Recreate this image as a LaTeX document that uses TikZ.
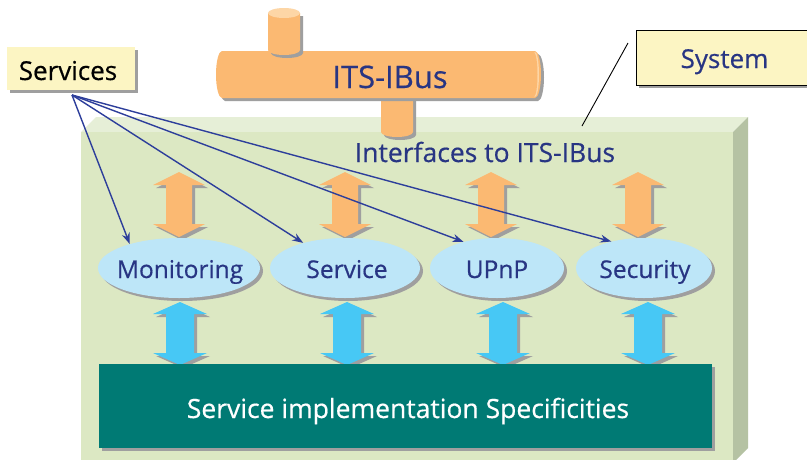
\documentclass[tikz,border=0pt]{standalone}
\usepackage{fontspec}
\setmainfont{Open Sans}[FakeBold=0.5]
\usetikzlibrary{shapes.geometric,arrows.meta}

\definecolor{greenfront}{HTML}{DCE8C3}
\definecolor{greentop}{HTML}{E6EFD7}
\definecolor{greenside}{HTML}{B5C2A3}
\definecolor{busorange}{HTML}{FBB972}
\definecolor{buslight}{HTML}{FDD6A6}
\definecolor{navy}{HTML}{283583}
\definecolor{linkblue}{HTML}{2D3E9B}
\definecolor{ellfill}{HTML}{BDE6F8}
\definecolor{arrowblue}{HTML}{47C8F5}
\definecolor{tealbox}{HTML}{007A74}
\definecolor{notefill}{HTML}{FCF5C3}
\definecolor{shadowc}{HTML}{9F9F9F}

% double-headed block arrow: x, top, bottom, shaft half width, head half width, head length, colour
\newcommand\twoway[7]{%
  \fill[#7, shadowed]
    (#1,#2) -- (#1+#5,#2+#6) -- (#1+#4,#2+#6) -- (#1+#4,#3-#6) -- (#1+#5,#3-#6)
    -- (#1,#3) -- (#1-#5,#3-#6) -- (#1-#4,#3-#6) -- (#1-#4,#2+#6) -- (#1-#5,#2+#6) -- cycle;}

\tikzset{
  shadowed/.style={preaction={fill=shadowc, transform canvas={shift={(3pt,-3pt)}}}},
  svc/.style={ellipse, fill=ellfill, shadowed, minimum width=#1, minimum height=60pt, inner sep=0pt},
  svctext/.style={font=\fontsize{24.5}{28}\selectfont, text=navy, anchor=base, inner sep=0pt},
  link/.style={draw=linkblue, line width=1.4pt, -{Stealth[length=11pt,width=8pt]}},
  note/.style={fill=notefill, shadowed, inner sep=0pt, anchor=north west},
}

\begin{document}
\begin{tikzpicture}[x=1pt,y=-1pt]
\clip (0,0) rectangle (807,459);
\fill[white] (0,0) rectangle (807,459);

% system block (front, top and side faces)
\fill[greentop] (81,132) -- (96,117) -- (748,117) -- (733,132) -- cycle;
\fill[greenside] (733,132) -- (748,117) -- (748,448) -- (733,463) -- cycle;
\fill[greenfront] (81,132) rectangle (733,463);

% lower connector of the bus
\fill[busorange, shadowed] (381,90) -- (413,90) -- (413,132)
  arc[start angle=0, end angle=180, x radius=16, y radius=5] -- cycle;

% the bus itself
\fill[busorange, shadowed] (222,51) -- (535,51)
  arc[start angle=-90, end angle=90, x radius=6, y radius=23.5] -- (222,98)
  arc[start angle=90, end angle=270, x radius=6, y radius=23.5] -- cycle;
\fill[buslight] (535,74.5) ellipse[x radius=4, y radius=22.5];
\fill[busorange] (534,74.5) ellipse[x radius=3.5, y radius=22];
\node[font=\fontsize{31}{34}\selectfont, text=navy, anchor=base, inner sep=0pt] (bus) at (390,88) {ITS-IBus};

% upper connector of the bus
\fill[busorange, shadowed] (268,13) -- (268,50)
  arc[start angle=180, end angle=0, x radius=16, y radius=5] -- (300,13) -- cycle;
\fill[buslight] (284,13) ellipse[x radius=16, y radius=5];

\node[font=\fontsize{26.5}{30}\selectfont, text=navy, anchor=base, inner sep=0pt] (ifc) at (485,162) {Interfaces to ITS-IBus};

% interface arrows
\twoway{179}{172}{237}{13}{26}{13}{busorange}
\twoway{345}{172}{237}{13}{26}{13}{busorange}
\twoway{491}{172}{237}{13}{26}{13}{busorange}
\twoway{638}{172}{237}{13}{26}{13}{busorange}

% services
\node[svc=162pt] (mon) at (179,268) {};
\node[svc=150pt] (srv) at (345,268) {};
\node[svc=134pt] (upnp) at (497,268) {};
\node[svc=136pt] (sec) at (644,268) {};
\node[svctext] (monlbl) at (180,278) {Monitoring};
\node[svctext] (srvlbl) at (347,278) {Service};
\node[svctext] (upnplbl) at (497,278) {UPnP};
\node[svctext] (seclbl) at (645,278) {Security};

% implementation arrows
\twoway{180}{302}{365}{14}{27}{12}{arrowblue}
\twoway{347}{302}{365}{14}{27}{12}{arrowblue}
\twoway{503}{302}{365}{14}{27}{12}{arrowblue}
\twoway{648}{302}{365}{14}{27}{12}{arrowblue}

\fill[tealbox, shadowed] (99,364) rectangle (712,448);
\node[font=\fontsize{26.5}{30}\selectfont, text=white, anchor=base, inner sep=0pt] (impl) at (408,418) {Service implementation Specificities};

% callouts
\node[note, minimum width=128pt, minimum height=43pt] (services) at (7,47) {};
\node[font=\fontsize{26}{30}\selectfont, anchor=base, inner sep=0pt] (serviceslbl) at (68,80) {Services};
\node[note, draw=black, line width=0.9pt, minimum width=180pt, minimum height=55pt] (system) at (636,30) {};
\node[font=\fontsize{26}{30}\selectfont, text=navy, anchor=base, inner sep=0pt] (systemlbl) at (724.5,68) {System};

\coordinate (fan) at (72,95);
\draw[link] (fan) -- (mon.154);
\draw[link] (fan) -- (srv.149);
\draw[link] (fan) -- (upnp.142);
\draw[link] (fan) -- (sec.141);

\coordinate (sysfoot) at (582,126);
\coordinate (systip) at (628,43);
\draw[black, line width=0.9pt] (sysfoot) -- (systip);
\end{tikzpicture}
\end{document}
